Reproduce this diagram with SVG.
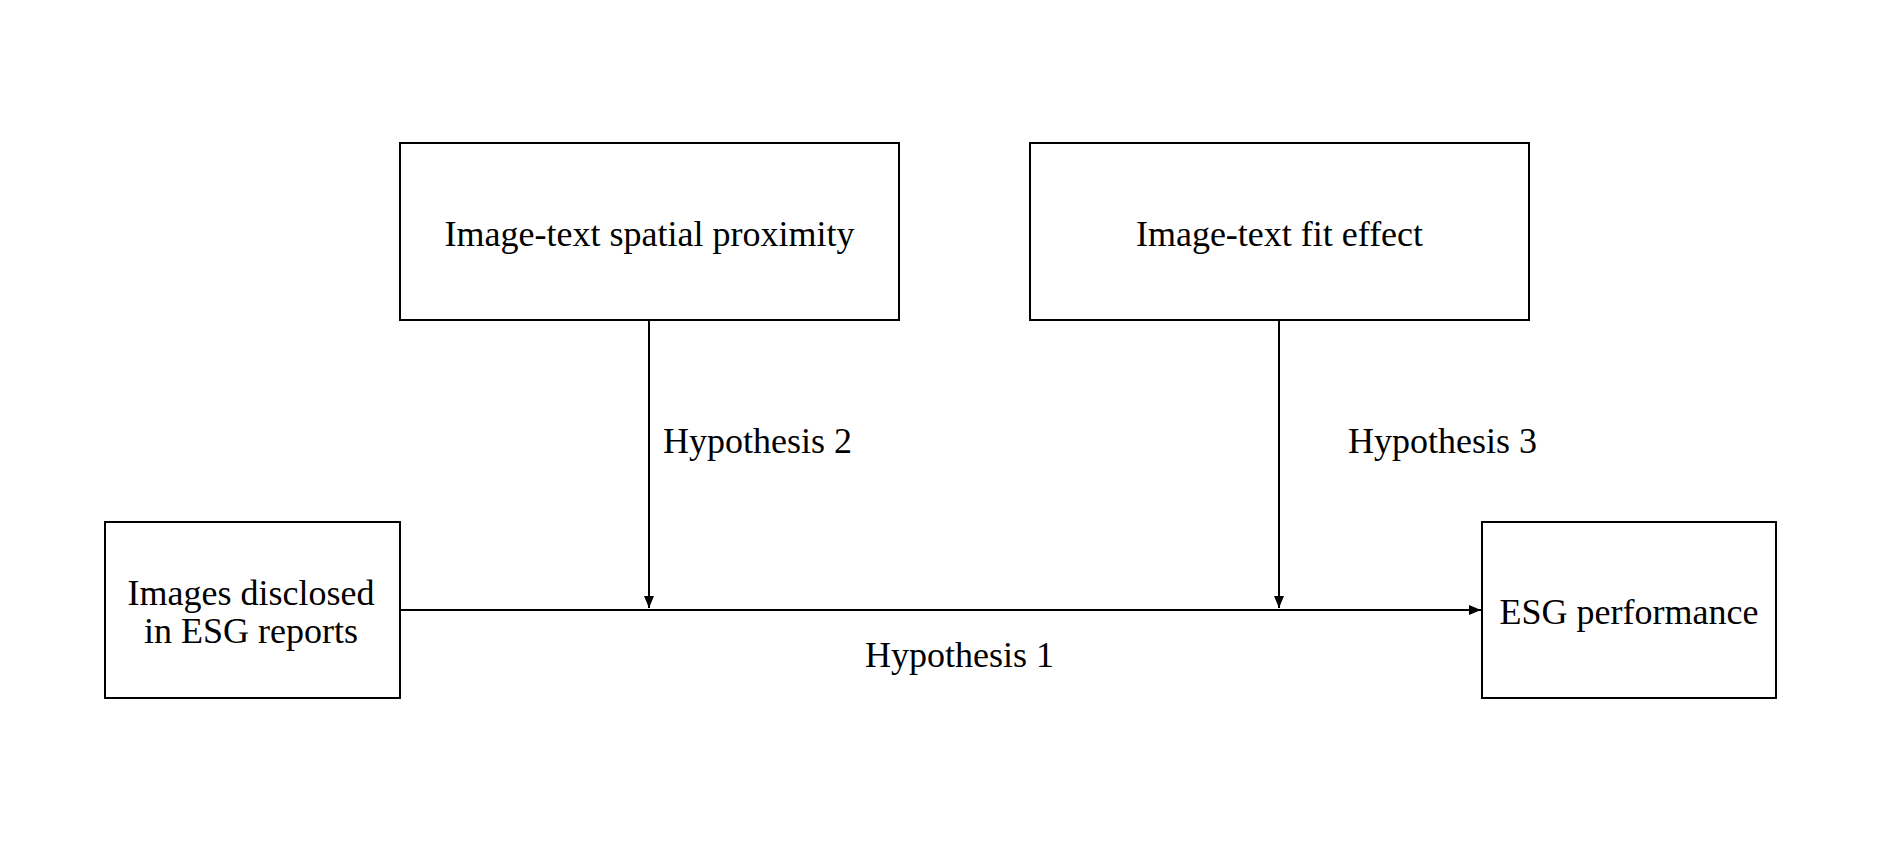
<svg xmlns="http://www.w3.org/2000/svg" width="1889" height="862" viewBox="0 0 1889 862">
<defs>
<style>
.box{fill:#fff;stroke:#000;stroke-width:2}
.t{font-family:"Liberation Serif","Times New Roman",serif;font-size:36px;fill:#000}
.c{text-anchor:middle}
.ln{stroke:#000;stroke-width:2;fill:none}
</style>
<marker id="ah" viewBox="0 0 12 10" refX="12" refY="5" markerWidth="12" markerHeight="10" markerUnits="userSpaceOnUse" orient="auto">
<path d="M0,0 L12,5 L0,10 Z" fill="#000"/>
</marker>
</defs>
<rect width="1889" height="862" fill="#fff"/>
<g id="connectors">
<line class="ln" x1="400" y1="610" x2="1481" y2="610" marker-end="url(#ah)"/>
<line class="ln" x1="649" y1="320" x2="649" y2="608" marker-end="url(#ah)"/>
<line class="ln" x1="1279" y1="320" x2="1279" y2="608" marker-end="url(#ah)"/>
<text class="t" x="663" y="453">Hypothesis 2</text>
<text class="t" x="1348" y="453">Hypothesis 3</text>
<text class="t" x="865" y="667">Hypothesis 1</text>
</g>
<g id="proximity">
<rect class="box" x="400" y="143" width="499" height="177"/>
<text class="t c" x="649.5" y="246">Image-text spatial proximity</text>
</g>
<g id="fit">
<rect class="box" x="1030" y="143" width="499" height="177"/>
<text class="t c" x="1279.5" y="246">Image-text fit effect</text>
</g>
<g id="images">
<rect class="box" x="105" y="522" width="295" height="176"/>
<text class="t c" x="251" y="605">Images disclosed</text>
<text class="t c" x="251" y="643">in ESG reports</text>
</g>
<g id="esg">
<rect class="box" x="1482" y="522" width="294" height="176"/>
<text class="t c" x="1629" y="624">ESG performance</text>
</g>
</svg>
